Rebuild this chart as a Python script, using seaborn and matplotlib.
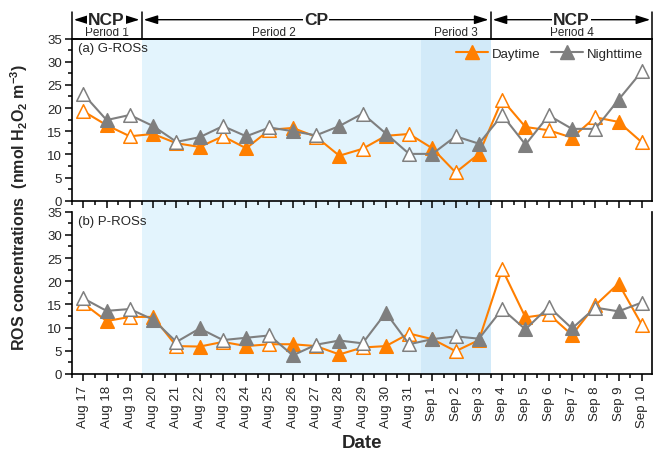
import numpy as np
import pandas as pd
import matplotlib
matplotlib.use('Agg')
import matplotlib.pyplot as plt
import matplotlib.transforms as mtrans
from matplotlib.ticker import MultipleLocator, FixedLocator
from matplotlib.patches import Rectangle, FancyArrowPatch
from matplotlib.lines import Line2D
import seaborn as sns

# ---------------- data ----------------
dates = ['Aug 17', 'Aug 18', 'Aug 19', 'Aug 20', 'Aug 21', 'Aug 22', 'Aug 23',
         'Aug 24', 'Aug 25', 'Aug 26', 'Aug 27', 'Aug 28', 'Aug 29', 'Aug 30',
         'Aug 31', 'Sep 1', 'Sep 2', 'Sep 3', 'Sep 4', 'Sep 5', 'Sep 6',
         'Sep 7', 'Sep 8', 'Sep 9', 'Sep 10']

g_day = [19.3, 16.3, 13.9, 14.4, 12.4, 11.6, 13.9, 11.3, 15.3, 15.7, 13.8, 9.7,
         11.2, 14.0, 14.4, 11.3, 6.1, 10.1, 21.8, 15.9, 15.2, 13.6, 18.0, 17.0, 12.6]
g_night = [23.0, 17.4, 18.5, 16.1, 12.7, 13.7, 16.1, 13.9, 15.8, 15.0, 14.1, 16.1,
           18.8, 14.5, 10.1, 10.1, 13.9, 12.3, 18.5, 12.1, 18.4, 15.5, 15.5, 21.8, 27.9]

p_day = [15.2, 11.4, 12.3, 12.3, 6.0, 5.9, 6.9, 6.0, 6.4, 6.4, 6.0, 4.2,
         5.7, 6.0, 8.7, 7.5, 4.9, 7.3, 22.6, 12.2, 12.9, 8.4, 14.8, 19.5, 10.6]
p_night = [16.3, 13.6, 14.0, 11.7, 6.9, 9.8, 7.3, 7.8, 8.3, 4.0, 6.3, 7.2,
           6.6, 13.2, 6.4, 7.5, 8.1, 7.6, 14.0, 9.6, 14.5, 9.8, 14.3, 13.5, 15.4]

phase_labels = ['NCP', 'CP', 'NCP']
period_labels = ['Period 1', 'Period 2', 'Period 3', 'Period 4']
series_names = ['Daytime', 'Nighttime']
panel_labels = ['(a) G-ROSs', '(b) P-ROSs']

# ---------------- style ----------------
sns.set_style('ticks')
plt.rcParams['font.family'] = ['Liberation Sans', 'DejaVu Sans']
plt.rcParams['mathtext.fontset'] = 'custom'
plt.rcParams['mathtext.rm'] = 'Liberation Sans'
plt.rcParams['mathtext.bf'] = 'Liberation Sans:bold'
plt.rcParams['mathtext.default'] = 'regular'

ORANGE = '#FF7F00'
GRAY = '#7F7F7F'
LIGHT = '#E3F4FD'
DARK = '#D2EAF9'

W_PX, H_PX = 653, 456
fig = plt.figure(figsize=(W_PX / 100, H_PX / 100), dpi=100)
fig.patch.set_facecolor('white')

left_px, right_px = 71.7, 652.3
a_top, a_bot = 39.5, 201.7
b_top, b_bot = 212.7, 374.9
L = left_px / W_PX
Wd = (right_px - left_px) / W_PX
ax1 = fig.add_axes([L, 1 - a_bot / H_PX, Wd, (a_bot - a_top) / H_PX])
ax2 = fig.add_axes([L, 1 - b_bot / H_PX, Wd, (b_bot - b_top) / H_PX])

x = np.arange(len(dates))
XL = (-0.5, 24.45)
even = (x % 2 == 0)

for ax, day, night, plab in [(ax1, g_day, g_night, panel_labels[0]),
                             (ax2, p_day, p_night, panel_labels[1])]:
    ax.set_facecolor('none')
    df = pd.DataFrame({'x': x, 'day': day, 'night': night})
    sns.lineplot(data=df, x='x', y='day', color=ORANGE, lw=1.5, ax=ax, zorder=2)
    for col, name, z in [(ORANGE, 'day', 3), (GRAY, 'night', 5)]:
        if name == 'night':
            sns.lineplot(data=df, x='x', y='night', color=GRAY, lw=1.5, ax=ax, zorder=4)
        s = df[name].to_numpy()
        sns.scatterplot(x=x[even], y=s[even], marker='^', s=95, color='white',
                        edgecolor=col, linewidth=1.1, ax=ax, zorder=z)
        sns.scatterplot(x=x[~even], y=s[~even], marker='^', s=95, color=col,
                        edgecolor=col, linewidth=1.1, ax=ax, zorder=z)
    ax.set_xlim(*XL)
    ax.set_ylim(0, 35)
    ax.xaxis.set_major_locator(FixedLocator(x))
    ax.xaxis.set_minor_locator(MultipleLocator(0.5))
    ax.yaxis.set_major_locator(MultipleLocator(5))
    ax.yaxis.set_minor_locator(MultipleLocator(2.5))
    ax.tick_params(which='major', direction='out', length=5, width=1.1,
                   labelsize=9.5, color='black', pad=2)
    ax.tick_params(which='minor', direction='out', length=3, width=1.1, color='black')
    ax.set_xlabel('')
    ax.set_ylabel('')
    for sp in ax.spines.values():
        sp.set_linewidth(1.2)
        sp.set_color('black')
    ax.text(0.01, 0.94, plab, transform=ax.transAxes, fontsize=9.5,
            ha='left', va='center')

ax1.set_xticklabels([])
ax2.spines['top'].set_visible(False)
ax2.set_xticklabels(dates, rotation=90)
ax2.tick_params(axis='x', which='major', pad=3, labelsize=9.5)
ax2.set_xlabel('Date', fontsize=13.5, fontweight='bold', labelpad=5)

# shading spanning both panels
trans_fig = mtrans.blended_transform_factory(ax1.transData, fig.transFigure)
y_top = 1 - a_top / H_PX
y_bot = 1 - b_bot / H_PX
fig.patches.append(Rectangle((2.5, y_bot), 12.0, y_top - y_bot, transform=trans_fig,
                             facecolor=LIGHT, edgecolor='none', zorder=-2))
fig.patches.append(Rectangle((14.5, y_bot), 3.0, y_top - y_bot, transform=trans_fig,
                             facecolor=DARK, edgecolor='none', zorder=-2))

# header with periods
bounds = [XL[0], 2.5, 17.5, XL[1]]
y_bar = 1 - 13 / H_PX
y_arrow = 1 - 20.7 / H_PX
y_period = 1 - 33 / H_PX
for b in bounds:
    fig.add_artist(Line2D([b, b], [y_top, y_bar], transform=trans_fig,
                          color='black', lw=1.1))
fig.add_artist(Line2D([XL[0], XL[1]], [y_top, y_top], transform=trans_fig,
                      color='black', lw=1.2))
segments = [(XL[0], 2.5), (2.5, 17.5), (17.5, XL[1])]
for (x0, x1), lab in zip(segments, phase_labels):
    arr = FancyArrowPatch((x0, y_arrow), (x1, y_arrow), transform=trans_fig,
                          arrowstyle='<|-|>,head_length=0.7,head_width=0.22',
                          mutation_scale=12, color='black', lw=1.0,
                          shrinkA=1.5, shrinkB=1.5)
    fig.add_artist(arr)
    fig.text((x0 + x1) / 2, y_arrow, lab, transform=trans_fig, ha='center',
             va='center', fontsize=12.5, fontweight='bold', zorder=5,
             bbox=dict(facecolor='white', edgecolor='none', pad=0.6))
period_x = [1.0, 8.2, 16.0, 21.0]
for px, lab in zip(period_x, period_labels):
    fig.text(px, y_period, lab, transform=trans_fig, ha='center', va='center',
             fontsize=8.5)

# legend
handles = [Line2D([], [], color=ORANGE, lw=1.5, marker='^', ms=9.5, mfc=ORANGE, mec=ORANGE),
           Line2D([], [], color=GRAY, lw=1.5, marker='^', ms=9.5, mfc=GRAY, mec=GRAY)]
ax1.legend(handles, series_names, loc='upper right', bbox_to_anchor=(1.0, 1.0),
           ncol=2, frameon=False, fontsize=9.5, handlelength=2.4,
           handletextpad=0.3, columnspacing=0.8, borderaxespad=0.3)

# y label
fig.text(0.03, 1 - ((a_top + b_bot) / 2) / H_PX,
         'ROS concentrations  (nmol H$_2$O$_2$ m$^{-3}$)',
         rotation=90, ha='center', va='center', fontsize=11.5, fontweight='bold')

fig.savefig('out.png', dpi=100)
